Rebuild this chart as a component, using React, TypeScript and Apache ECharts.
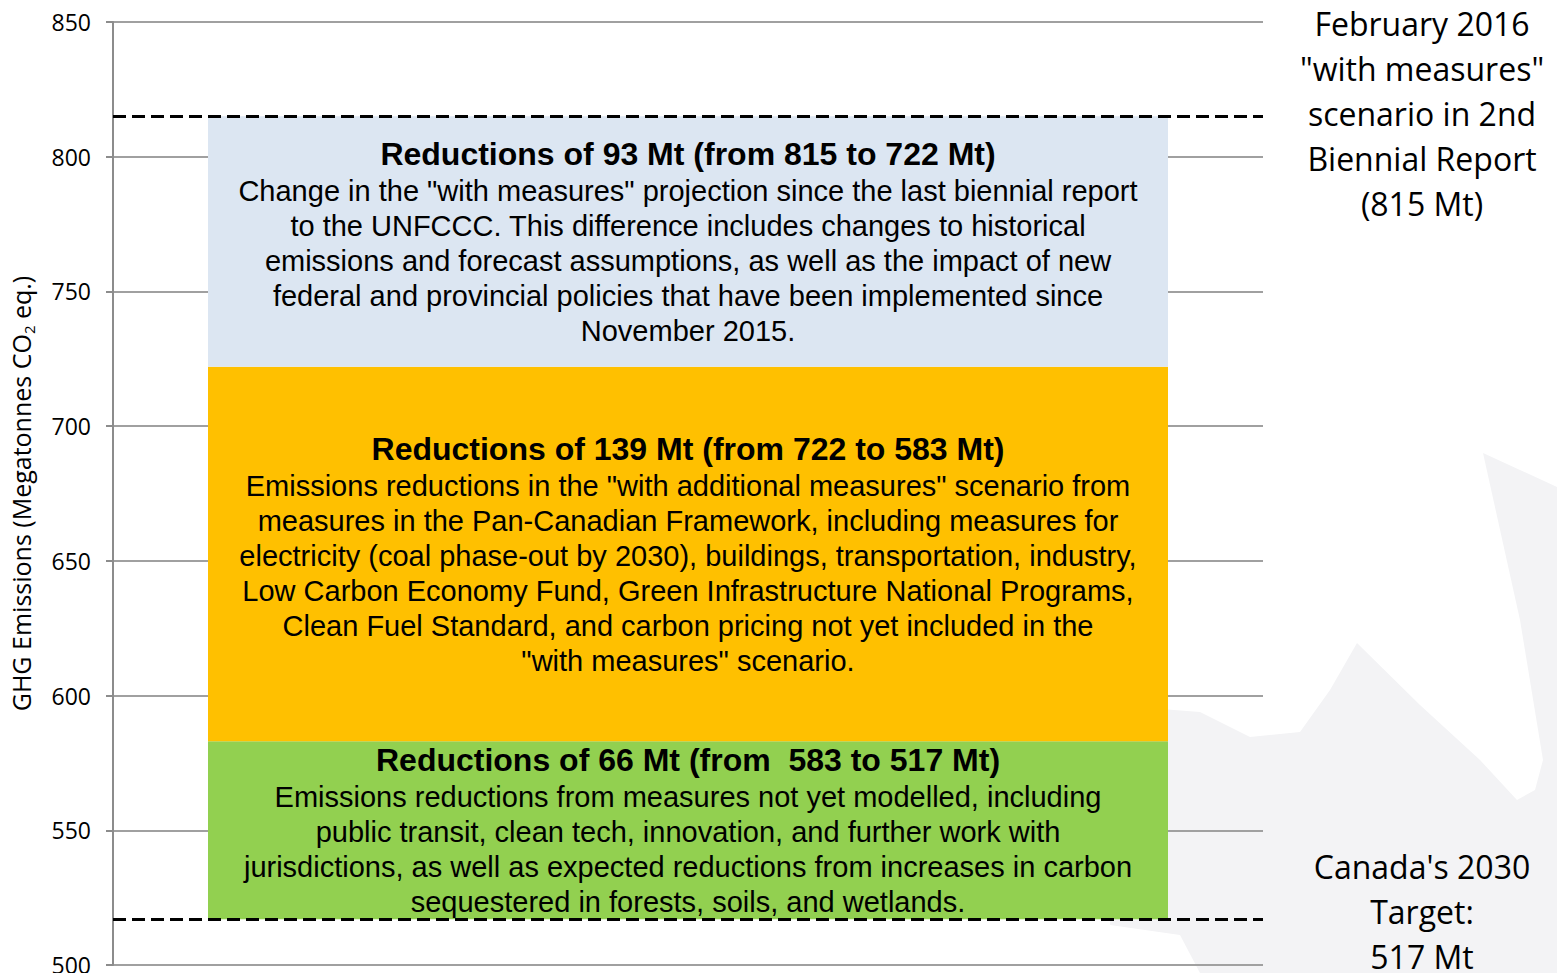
import React, { useEffect, useRef } from "react";
import * as echarts from "echarts";

const categories = ["2030"];
const baseValues = [517];
const greenValues = [66];
const orangeValues = [139];
const blueValues = [93];
const referenceLevels = [815, 517];
const yTicks = { min: 500, max: 850, interval: 50 };

const blueText = [
  "Reductions of 93 Mt (from 815 to 722 Mt)",
  'Change in the "with measures" projection since the last biennial report',
  "to the UNFCCC. This difference includes changes to historical",
  "emissions and forecast assumptions, as well as the impact of new",
  "federal and provincial policies that have been implemented since",
  "November 2015.",
];
const orangeText = [
  "Reductions of 139 Mt (from 722 to 583 Mt)",
  'Emissions reductions in the "with additional measures" scenario from',
  "measures in the Pan-Canadian Framework, including measures for",
  "electricity (coal phase-out by 2030), buildings, transportation, industry,",
  "Low Carbon Economy Fund, Green Infrastructure National Programs,",
  "Clean Fuel Standard, and carbon pricing not yet included in the",
  '"with measures" scenario.',
];
const greenText = [
  "Reductions of 66 Mt (from  583 to 517 Mt)",
  "Emissions reductions from measures not yet modelled, including",
  "public transit, clean tech, innovation, and further work with",
  "jurisdictions, as well as expected reductions from increases in carbon",
  "sequestered in forests, soils, and wetlands.",
];
const topNote = ["February 2016", '"with measures"', "scenario in 2nd", "Biennial Report", "(815 Mt)"];
const bottomNote = ["Canada's 2030", "Target:", "517 Mt"];

function fmt(lines: string[]) {
  return lines.map((l, i) => (i === 0 ? `{t|${l}}` : `{b|${l}}`)).join("\n");
}

const richStyles = {
  t: { fontFamily: '"Liberation Sans", Arial', fontWeight: "bold", fontSize: 32, lineHeight: 38, color: "#000" },
  b: { fontFamily: '"Liberation Sans", Arial', fontSize: 29, lineHeight: 35, color: "#000" },
};

export default function App() {
  const ref = useRef<HTMLDivElement>(null);
  useEffect(() => {
    document.body.style.margin = "0";
    if (!ref.current) return;
    const chart = echarts.init(ref.current, undefined, { renderer: "svg" });
    const font = '"Open Sans", "Noto Sans", sans-serif';
    const barLabel = (lines: string[]) => ({
      show: true,
      position: "inside",
      formatter: fmt(lines),
      rich: richStyles,
      align: "center",
    });
    chart.setOption({
      animation: false,
      backgroundColor: "#ffffff",
      grid: { left: 113, right: 294, top: 22, bottom: 8, containLabel: false, outerBoundsMode: "none" },
      xAxis: {
        type: "category",
        data: categories,
        show: false,
      },
      yAxis: {
        type: "value",
        min: yTicks.min,
        max: yTicks.max,
        interval: yTicks.interval,
        name: "{a|GHG Emissions (Megatonnes CO}{sub|2}{a| eq.)}",
        nameLocation: "middle",
        nameGap: 77,
        nameRotate: 90,
        nameTextStyle: {
          rich: {
            a: { fontFamily: font, fontSize: 25, lineHeight: 30, color: "#000" },
            sub: { fontFamily: font, fontSize: 15, lineHeight: 15, verticalAlign: "bottom", color: "#000" },
          },
        },
        axisLine: { show: true, lineStyle: { color: "#8c8c8c", width: 2 } },
        axisTick: { show: true, length: 7, lineStyle: { color: "#8c8c8c", width: 2 } },
        axisLabel: { fontFamily: font, fontSize: 23, color: "#000", margin: 22 },
        splitLine: { show: true, lineStyle: { color: "#a0a0a0", width: 2 } },
      },
      graphic: [
        {
          type: "polygon",
          z: -10,
          silent: true,
          shape: {
            points: [
              [1110, 705], [1200, 712], [1250, 737], [1300, 732], [1330, 690], [1357, 643],
              [1420, 705], [1480, 760], [1517, 800], [1535, 790], [1543, 760], [1520, 620],
              [1483, 453], [1520, 470], [1557, 487], [1557, 973], [1200, 973], [1180, 935], [1110, 925],
            ],
          },
          style: { fill: "#f3f3f5" },
        },
        {
          type: "text",
          x: 1422,
          y: 113,
          style: {
            text: topNote.join("\n"),
            font: `32px ${font}`,
            lineHeight: 45,
            fill: "#000",
            textAlign: "center",
            textVerticalAlign: "middle",
          },
        },
        {
          type: "text",
          x: 1422,
          y: 911,
          style: {
            text: bottomNote.join("\n"),
            font: `32px ${font}`,
            lineHeight: 45,
            fill: "#000",
            textAlign: "center",
            textVerticalAlign: "middle",
          },
        },
      ],
      series: [
        {
          type: "bar",
          stack: "total",
          data: baseValues,
          barWidth: 960,
          itemStyle: { color: "transparent" },
          silent: true,
        },
        {
          type: "bar",
          stack: "total",
          data: greenValues,
          barWidth: 960,
          itemStyle: { color: "#92d050" },
          label: barLabel(greenText),
        },
        {
          type: "bar",
          stack: "total",
          data: orangeValues,
          barWidth: 960,
          itemStyle: { color: "#ffc000" },
          label: barLabel(orangeText),
        },
        {
          type: "bar",
          stack: "total",
          data: blueValues,
          barWidth: 960,
          itemStyle: { color: "#dce6f2" },
          label: barLabel(blueText),
          markLine: {
            silent: true,
            symbol: "none",
            z: 10,
            label: { show: false },
            lineStyle: { color: "#000", width: 3, type: [13, 6] },
            data: referenceLevels.map((v) => ({ yAxis: v })),
          },
        },
      ],
    });
    return () => chart.dispose();
  }, []);
  return <div ref={ref} style={{ width: 1557, height: 973 }} />;
}
